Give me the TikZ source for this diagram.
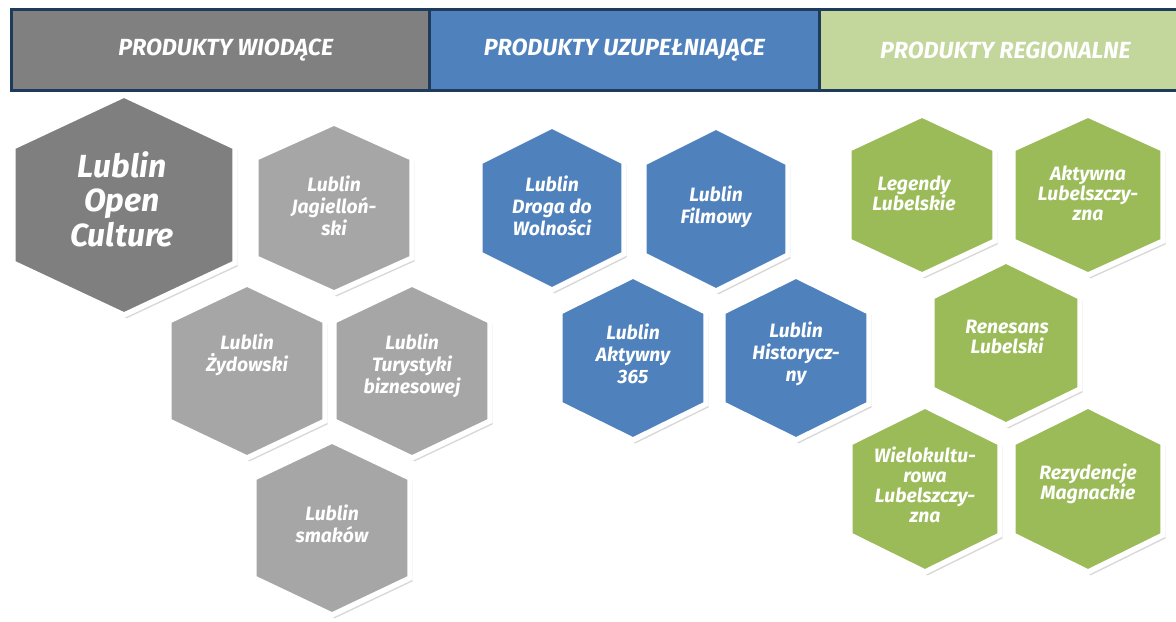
\documentclass[tikz,border=0pt]{standalone}
\usepackage{fontspec}
\setmainfont{Fira Sans}
\usetikzlibrary{shadows}
\definecolor{navy}{HTML}{1F3B5C}
\definecolor{hgray}{HTML}{808080}
\definecolor{hblue}{HTML}{4F81BD}
\definecolor{hgreen}{HTML}{C3D69B}
\definecolor{bigg}{HTML}{7F7F7F}
\definecolor{smallg}{HTML}{A6A6A6}
\definecolor{blueh}{HTML}{4F81BD}
\definecolor{greenh}{HTML}{9BBB59}
\tikzset{
  hexshape/.style={draw=white, line width=4pt, line join=miter,
    drop shadow={shadow xshift=2pt, shadow yshift=-2.5pt, opacity=0.3}},
  hdr/.style={draw=navy, line width=2.2pt, anchor=north west, minimum height=60.75pt,
    text=white, font=\bfseries\itshape\fontsize{17.5}{20}\selectfont, inner sep=0pt},
  hextext/.style={text=white, align=center, inner sep=0pt,
    font=\bfseries\itshape\fontsize{14.5}{16.5}\selectfont},
  bigtext/.style={text=white, align=center, inner sep=0pt,
    font=\bfseries\itshape\fontsize{24}{26}\selectfont},
  greentext/.style={text=white, align=center, inner sep=0pt,
    font=\bfseries\itshape\fontsize{14.5}{15}\selectfont}
}
% cx cy hw hh s color
\newcommand\myhex[6]{%
  \path[hexshape, fill=#6] (#1,{#2-#4}) -- ({#1+#3},{#2-#5}) -- ({#1+#3},{#2+#5})
    -- (#1,{#2+#4}) -- ({#1-#3},{#2+#5}) -- ({#1-#3},{#2-#5}) -- cycle;}
\begin{document}
\begin{tikzpicture}[x=0.75pt,y=-0.75pt]
\useasboundingbox (0,0) rectangle (1176,621);
\fill[white] (0,0) rectangle (1176,621);
% header
\node[hdr, fill=hgray, minimum width=313.5pt] (h1) at (10,8) {\hspace{8pt}PRODUKTY WIODĄCE};
\node[hdr, fill=hblue, minimum width=292.5pt] (h2) at (428,8) {PRODUKTY UZUPEŁNIAJĄCE};
\node[hdr, fill=hgreen, minimum width=275pt] (h3) at (818,8) {\hspace{4pt}PRODUKTY REGIONALNE};
% gray hexes
\myhex{124}{205}{111}{110}{58}{bigg}
\node[bigtext] (loc) at (122,199) {Lublin\\Open\\Culture};
\myhex{334}{208}{78}{85}{50}{smallg}
\node[hextext] (jag) at (334,206) {Lublin\\Jagielloń-\\ski};
\myhex{247}{371}{78}{87}{50}{smallg}
\node[hextext] (zyd) at (247,355) {Lublin\\Żydowski};
\myhex{412}{371}{78}{87}{50}{smallg}
\node[hextext] (tur) at (412,366) {Lublin\\Turystyki\\biznesowej};
\myhex{332}{528}{78}{87}{50}{smallg}
\node[hextext] (sma) at (332,524) {Lublin\\smaków};
% blue hexes
\myhex{552}{208}{72}{82}{46}{blueh}
\node[hextext] (dro) at (552,206) {Lublin\\Droga do\\Wolności};
\myhex{716}{209}{72}{82}{46}{blueh}
\node[hextext] (fil) at (716,207) {Lublin\\Filmowy};
\myhex{633}{358}{73}{82}{46}{blueh}
\node[hextext] (akt) at (633,354) {Lublin\\Aktywny\\365};
\myhex{796}{358}{73}{82}{46}{blueh}
\node[hextext] (his) at (796,354) {Lublin\\Historycz-\\ny};
% green hexes
\myhex{922}{195}{73}{80}{46}{greenh}
\node[greentext] (leg) at (914,193) {Legendy\\Lubelskie};
\myhex{1088}{195}{75}{80}{46}{greenh}
\node[greentext] (aka) at (1088,193) {Aktywna\\Lubelszczy-\\zna};
\myhex{1006}{343}{74}{82}{46}{greenh}
\node[greentext] (ren) at (1007,337) {Renesans\\Lubelski};
\myhex{925}{489}{75}{83}{46}{greenh}
\node[greentext] (wie) at (925,485) {Wielokultu-\\rowa\\Lubelszczy-\\zna};
\myhex{1088}{489}{75}{83}{46}{greenh}
\node[greentext] (rez) at (1088,484) {Rezydencje\\Magnackie};
\end{tikzpicture}
\end{document}
